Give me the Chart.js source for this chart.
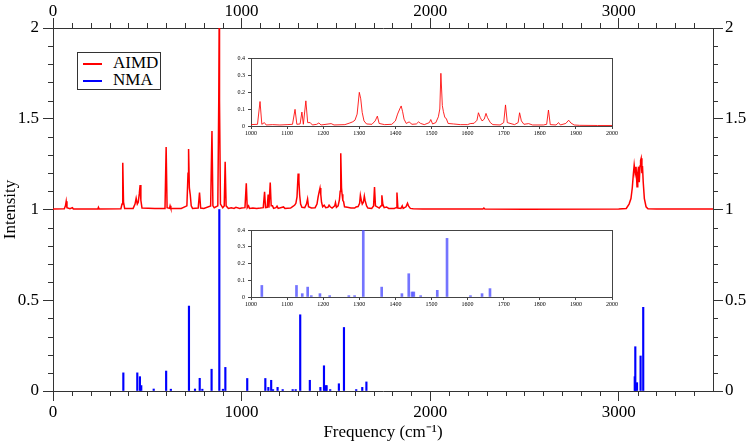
<!DOCTYPE html>
<html>
<head>
<meta charset="utf-8">
<script src="https://cdn.jsdelivr.net/npm/chart.js@4.4.1/dist/chart.umd.min.js"></script>
<style>
  body { margin: 0; background: #fff; }
  #wrap { position: relative; width: 746px; height: 446px; }
  #wrap canvas { position: absolute; }
  .inset { position: absolute; }
  #legend { position: absolute; left: 77px; top: 52px; width: 82px; height: 36px;
            border: 1px solid #333; background: #fff;
            font-family: 'Liberation Serif', 'Times New Roman', serif; font-size: 17px; color: #000; }
  #legend .sw { position: absolute; left: 5px; width: 19px; height: 1.5px; }
  #legend .tx { position: absolute; left: 35px; line-height: 20px; }
</style>
</head>
<body>
<div id="wrap">
  <canvas id="main" width="746" height="446"></canvas>
  <div class="inset" style="left:221px; top:50px;"><canvas id="inset1" width="400" height="95"></canvas></div>
  <div class="inset" style="left:221px; top:222px;"><canvas id="inset2" width="400" height="94"></canvas></div>
  <div id="legend">
    <div class="sw" style="top:10px; background:#ff0000;"></div><div class="tx" style="top:0px;">AIMD</div>
    <div class="sw" style="top:27px; background:#0000ff;"></div><div class="tx" style="top:17px;">NMA</div>
  </div>
</div>
<script>
// axis ticks
const xTicks = [0, 1000, 2000, 3000];
const yTicks = [0, 0.5, 1, 1.5, 2];
const insetXTicks = [1000, 1100, 1200, 1300, 1400, 1500, 1600, 1700, 1800, 1900, 2000];
const insetYTicks = [0, 0.1, 0.2, 0.3, 0.4];

// AIMD spectrum, [frequency, intensity]; shifted up by aimdOffset in the main panel
const aimdOffset = 1;
const aimdPoints = [
  [0,0.003],[60,0.004],[66,0.02],[70,0.045],[74,0.01],[90,0.004],[103,0.01],[108,0.003],
  [200,0.003],[238,0.003],[241,0.012],[245,0.003],[360,0.004],[366,0.03],[370,0.258],[374,0.04],
  [380,0.006],[425,0.006],[435,0.03],[441,0.062],[447,0.03],[452,0.04],[458,0.09],[462,0.135],
  [466,0.05],[472,0.008],[540,0.005],[560,0.006],[594,0.006],[600,0.344],[605,0.01],[618,0.006],
  [621,0.02],[625,0.006],[680,0.006],[710,0.02],[716,0.2],[719,0.333],[723,0.12],[728,0.08],
  [733,0.02],[740,0.006],[770,0.008],[777,0.093],[783,0.008],[800,0.006],[836,0.02],[843,0.432],
  [848,0.02],[855,0.01],[874,0.02],[879,0.6],[881,1.0],[883,0.6],[888,0.03],[900,0.01],
  [908,0.02],[913,0.263],[918,0.02],[930,0.006],[945,0.01],[960,0.006],[970,0.012],[990,0.006],
  [1000,0.008],[1018,0.01],[1025,0.144],[1030,0.01],[1037,0.02],[1042,0.006],[1060,0.008],[1080,0.006],
  [1100,0.008],[1115,0.01],[1122,0.098],[1127,0.01],[1136,0.012],[1141,0.082],[1145,0.01],[1152,0.148],
  [1157,0.02],[1164,0.02],[1170,0.006],[1182,0.01],[1188,0.018],[1194,0.006],[1222,0.014],[1230,0.006],
  [1260,0.008],[1274,0.018],[1282,0.025],[1288,0.034],[1294,0.07],[1300,0.198],[1304,0.16],[1308,0.08],
  [1313,0.03],[1320,0.012],[1335,0.01],[1344,0.03],[1350,0.058],[1355,0.015],[1370,0.008],[1390,0.01],
  [1400,0.03],[1406,0.07],[1412,0.1],[1416,0.118],[1420,0.084],[1424,0.04],[1430,0.015],[1438,0.024],
  [1446,0.01],[1458,0.012],[1464,0.024],[1470,0.015],[1480,0.008],[1494,0.02],[1498,0.038],[1503,0.012],
  [1512,0.02],[1519,0.054],[1523,0.1],[1526,0.31],[1530,0.12],[1533,0.084],[1537,0.05],[1541,0.044],
  [1546,0.015],[1561,0.012],[1580,0.008],[1600,0.008],[1607,0.014],[1618,0.016],[1626,0.034],[1630,0.078],
  [1635,0.05],[1640,0.03],[1646,0.04],[1651,0.074],[1655,0.05],[1663,0.02],[1670,0.008],[1690,0.006],
  [1700,0.02],[1705,0.124],[1710,0.02],[1730,0.008],[1740,0.02],[1744,0.078],[1749,0.03],[1756,0.01],
  [1769,0.014],[1780,0.006],[1810,0.006],[1819,0.01],[1824,0.094],[1829,0.008],[1845,0.006],[1852,0.02],
  [1857,0.006],[1872,0.015],[1880,0.034],[1886,0.018],[1895,0.006],[1910,0.004],[1960,0.003],[2000,0.003],
  [2280,0.003],[2285,0.008],[2290,0.003],[2500,0.002],[3000,0.003],[3040,0.006],[3055,0.03],[3065,0.06],
  [3072,0.12],[3078,0.2],[3082,0.245],[3087,0.2],[3092,0.235],[3097,0.126],[3101,0.2],[3105,0.236],
  [3109,0.15],[3113,0.24],[3116,0.27],[3119,0.282],[3123,0.2],[3126,0.24],[3130,0.15],[3136,0.06],
  [3145,0.015],[3155,0.004],[3200,0.003],[3500,0.003]
];

// NMA stick spectrum
const nmaFreq = [373, 447, 461, 468, 534, 600, 625, 721, 753, 778, 792, 841, 882, 901, 914,
  1030, 1126, 1142, 1157, 1167, 1191, 1218, 1271, 1287, 1311, 1362, 1418, 1437, 1446, 1451,
  1470, 1516, 1543, 1608, 1640, 1662, 3085, 3088, 3097, 3116, 3130];
const nmaInt = [0.10, 0.10, 0.079, 0.03, 0.011, 0.11, 0.01, 0.468, 0.011, 0.07, 0.01, 0.12, 1.0, 0.01, 0.13,
  0.069, 0.069, 0.02, 0.059, 0.008, 0.02, 0.008, 0.008, 0.008, 0.42, 0.059, 0.02, 0.139, 0.03, 0.03,
  0.008, 0.04, 0.35, 0.008, 0.02, 0.05, 0.079, 0.244, 0.046, 0.193, 0.461];

const serif = "'Liberation Serif', 'Times New Roman', serif";
const axisColor = '#333';

const aimdMain = aimdPoints.map(p => ({ x: p[0], y: p[1] + aimdOffset }));
const aimdRaw = aimdPoints.map(p => ({ x: p[0], y: p[1] }));
const nmaData = nmaFreq.map((f, i) => ({ x: f, y: nmaInt[i] }));

function fixTicks(list) {
  return s => { s.ticks = list.map(v => ({ value: v })); };
}

function mainAxis(pos, min, max, ticks, size, pad) {
  const horiz = pos === 'top' || pos === 'bottom';
  return {
    type: 'linear', position: pos, min: min, max: max, offset: false,
    afterBuildTicks: fixTicks(ticks),
    afterFit: s => { if (horiz) s.height = size; else s.width = size; },
    grid: { drawOnChartArea: false, drawTicks: true, tickLength: 10, tickColor: axisColor, tickWidth: 1, offset: false },
    border: { display: true, color: axisColor, width: 1 },
    ticks: { color: '#000', font: { family: serif, size: 17 }, padding: pad,
             maxRotation: 0, autoSkip: false, callback: v => String(v) }
  };
}

// minor tick marks on all four sides of the main frame
const minorTicks = {
  id: 'minorTicks',
  afterDraw(chart) {
    const ctx = chart.ctx, a = chart.chartArea;
    const sx = chart.scales.x, sy = chart.scales.y;
    ctx.save();
    ctx.strokeStyle = axisColor;
    ctx.lineWidth = 1;
    ctx.beginPath();
    for (let v = 100; v < 3500; v += 100) {
      if (v % 1000 === 0) continue;
      const px = Math.round(sx.getPixelForValue(v)) + 0.5;
      ctx.moveTo(px, a.bottom); ctx.lineTo(px, a.bottom + 5);
      ctx.moveTo(px, a.top); ctx.lineTo(px, a.top - 5);
    }
    for (let i = 1; i < 20; i++) {
      if (i % 5 === 0) continue;
      const py = Math.round(sy.getPixelForValue(i / 10)) + 0.5;
      ctx.moveTo(a.left, py); ctx.lineTo(a.left - 5, py);
      ctx.moveTo(a.right, py); ctx.lineTo(a.right + 5, py);
    }
    ctx.stroke();
    ctx.restore();
  }
};

const yLeft = mainAxis('left', 0, 2, yTicks, 53, 4);
yLeft.title = { display: true, text: 'Intensity', color: '#000', font: { family: serif, size: 17 },
                padding: { top: 0, bottom: 0 } };
const xBottom = mainAxis('bottom', 0, 3500, xTicks, 55, 1);
xBottom.title = { display: true, text: 'Frequency (cm\u207B\u00B9)', color: '#000', font: { family: serif, size: 17 },
                  padding: { top: 0, bottom: 3 } };

new Chart(document.getElementById('main'), {
  type: 'line',
  data: {
    datasets: [{
      label: 'AIMD',
      data: aimdMain,
      borderColor: '#ff0000',
      borderWidth: 1.5,
      pointRadius: 0,
      tension: 0
    }, {
      type: 'bar',
      label: 'NMA',
      data: nmaData,
      backgroundColor: '#0000ff',
      barThickness: 1.5,
      borderWidth: 0
    }]
  },
  options: {
    responsive: false,
    animation: false,
    layout: { padding: 0 },
    plugins: { legend: { display: false }, tooltip: { enabled: false } },
    scales: {
      x: xBottom,
      x2: mainAxis('top', 0, 3500, xTicks, 28, -4),
      y: yLeft,
      y2: mainAxis('right', 0, 2, yTicks, 33, 2)
    }
  },
  plugins: [minorTicks]
});

function insetScales() {
  const tickFont = { family: serif, size: 6 };
  const frame = { display: true, color: '#444', width: 1 };
  return {
    x: {
      type: 'linear', min: 1000, max: 2000, offset: false,
      afterBuildTicks: fixTicks(insetXTicks),
      afterFit: s => { s.height = 19; },
      grid: { drawOnChartArea: false, tickLength: 3, tickColor: '#444', offset: false },
      border: frame,
      ticks: { color: '#000', font: tickFont, padding: 1, maxRotation: 0, autoSkip: false, callback: v => String(v) }
    },
    y: {
      type: 'linear', min: 0, max: 0.4,
      afterBuildTicks: fixTicks(insetYTicks),
      afterFit: s => { s.width = 30; },
      grid: { drawOnChartArea: false, tickLength: 3, tickColor: '#444' },
      border: frame,
      ticks: { color: '#000', font: tickFont, padding: 3, autoSkip: false, callback: v => String(v) }
    },
    x2: {
      type: 'linear', position: 'top', min: 1000, max: 2000,
      afterFit: s => { s.height = 0; },
      grid: { display: false, drawTicks: false }, border: frame, ticks: { display: false }
    },
    y2: {
      type: 'linear', position: 'right', min: 0, max: 0.4,
      afterFit: s => { s.width = 0; },
      grid: { display: false, drawTicks: false }, border: frame, ticks: { display: false }
    }
  };
}

new Chart(document.getElementById('inset1'), {
  type: 'line',
  data: {
    datasets: [{
      data: aimdRaw,
      borderColor: 'rgba(255,0,0,0.85)',
      borderWidth: 1,
      pointRadius: 0,
      tension: 0
    }]
  },
  options: {
    responsive: false,
    animation: false,
    layout: { padding: { top: 8, right: 9, left: 0, bottom: 0 } },
    plugins: { legend: { display: false }, tooltip: { enabled: false } },
    scales: insetScales()
  }
});

new Chart(document.getElementById('inset2'), {
  type: 'bar',
  data: {
    datasets: [{
      data: nmaData,
      backgroundColor: 'rgba(70,70,255,0.75)',
      barThickness: 2,
      borderWidth: 0
    }]
  },
  options: {
    responsive: false,
    animation: false,
    layout: { padding: { top: 8, right: 9, left: 0, bottom: 0 } },
    plugins: { legend: { display: false }, tooltip: { enabled: false } },
    scales: insetScales()
  }
});
</script>
</body>
</html>
